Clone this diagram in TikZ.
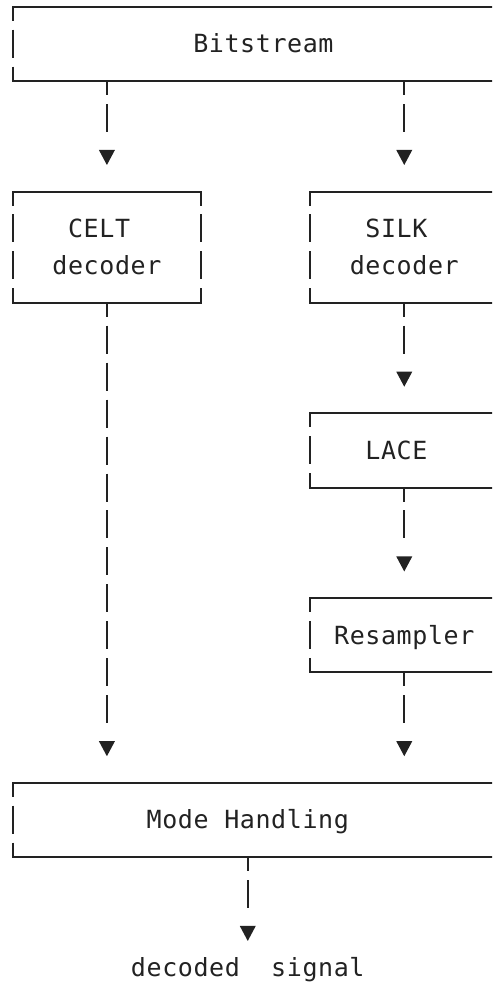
\documentclass[tikz,border=0pt]{standalone}
\usepackage{fontspec}
\usepackage{tikz}
\usetikzlibrary{shapes.geometric, positioning, fit}
\newfontfamily\mono[LetterSpace=2.4]{DejaVu Sans Mono}
\definecolor{encre}{HTML}{222222}

\begin{document}
\begin{tikzpicture}[x=15.65pt,y=-36.95pt]
            % Styles
            \tikzstyle{trait}=[draw=encre,line width=2pt,line cap=rect]
            \tikzstyle{cote}=[draw=encre,line width=2pt,dash pattern=on 28pt off 8.95pt,dash phase=14pt]
            \tikzstyle{fleche}=[cote,shorten >=15.5pt]
            \tikzstyle{boite}=[inner sep=0pt,draw=none]
            \tikzstyle{texte}=[font=\mono\fontsize{25}{30}\selectfont,text=encre,anchor=base,yshift=-9pt,inner sep=0pt]
            \tikzstyle{pointe}=[isosceles triangle,isosceles triangle stretches,shape border rotate=-90,minimum width=16pt,minimum height=15pt,inner sep=0pt,fill=encre]
            % Cadre d'une boite (cotes en tirets)
            \def\Cadre#1{
              \draw[trait] (#1.north west)--(#1.north east);
              \draw[trait] (#1.south west)--(#1.south east);
              \draw[cote] (#1.north west)--(#1.south west);
              \draw[cote] (#1.north east)--(#1.south east);}
            \useasboundingbox (-0.831,-0.189) rectangle (30.607,26.387);
            \clip (-0.831,-0.189) rectangle (30.607,26.387);
            % Boites
            \node[boite,fit={(0,0) (32,2)}] (Bitstream) {};
            \node[boite,fit={(0,5) (12,8)}] (Celt) {};
            \node[boite,fit={(19,5) (31,8)}] (Silk) {};
            \node[boite,fit={(19,11) (31,13)}] (Lace) {};
            \node[boite,fit={(19,16) (31,18)}] (Resampler) {};
            \node[boite,fit={(0,21) (32,23)}] (Mode) {};
            \Cadre{Bitstream}
            \Cadre{Celt}
            \Cadre{Silk}
            \Cadre{Lace}
            \Cadre{Resampler}
            \Cadre{Mode}
            % Textes
            \node[texte] (tBitstream) at (16,1) {Bitstream};
            \node[texte] (tCelt) at (5.5,6) {CELT};
            \node[texte] (tCeltDec) at (6,7) {decoder};
            \node[texte] (tSilk) at (24.5,6) {SILK};
            \node[texte] (tSilkDec) at (25,7) {decoder};
            \node[texte] (tLace) at (24.5,12) {LACE};
            \node[texte] (tResampler) at (25,17) {Resampler};
            \node[texte] (tMode) at (15,22) {Mode Handling};
            \node[texte] (sortie) at (15,26) {decoded\ \ signal};
            % Pointes
            \node[pointe] (pA) at (6,4) {};
            \node[pointe] (pB) at (25,4) {};
            \node[pointe] (pC) at (25,10) {};
            \node[pointe] (pD) at (25,15) {};
            \node[pointe] (pE) at (6,20) {};
            \node[pointe] (pF) at (25,20) {};
            \node[pointe] (pG) at (15,25) {};
            % Fleches
            \draw[fleche] (Bitstream.south -| pA)--(pA.lower side);
            \draw[fleche] (Bitstream.south -| pB)--(pB.lower side);
            \draw[fleche] (Silk.south -| pC)--(pC.lower side);
            \draw[fleche] (Lace.south -| pD)--(pD.lower side);
            \draw[fleche] (Celt.south -| pE)--(pE.lower side);
            \draw[fleche] (Resampler.south -| pF)--(pF.lower side);
            \draw[fleche] (Mode.south -| pG)--(pG.lower side);
\end{tikzpicture}
\end{document}
